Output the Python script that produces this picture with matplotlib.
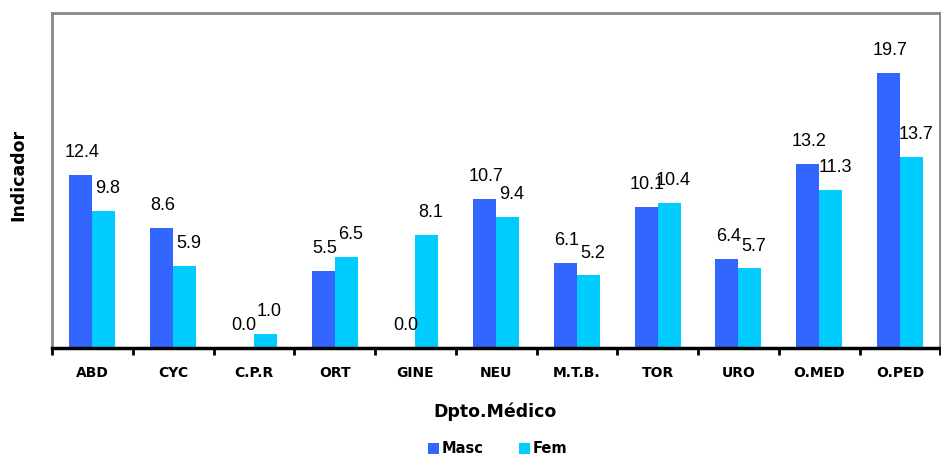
import numpy as np
import matplotlib
matplotlib.use("Agg")
import matplotlib.pyplot as plt

# data
categorias = ["ABD", "CYC", "C.P.R", "ORT", "GINE", "NEU", "M.T.B.", "TOR", "URO", "O.MED", "O.PED"]
masc = [12.4, 8.6, 0.0, 5.5, 0.0, 10.7, 6.1, 10.1, 6.4, 13.2, 19.7]
fem = [9.8, 5.9, 1.0, 6.5, 8.1, 9.4, 5.2, 10.4, 5.7, 11.3, 13.7]

plt.rcParams['font.family'] = ['Liberation Sans', 'DejaVu Sans']

fig = plt.figure(figsize=(9.41, 4.57), dpi=100)
ax = fig.add_axes([0.0553, 0.2385, 0.944, 0.733])

x = np.arange(len(categorias))
w = 0.285
b1 = ax.bar(x - w/2, masc, w, color="#3366FF", label="Masc")
b2 = ax.bar(x + w/2, fem, w, color="#00CCFF", label="Fem")

for bars, vals, dx in ((b1, masc, 1), (b2, fem, 3)):
    for r, v in zip(bars, vals):
        ax.annotate(f"{v:.1f}", (r.get_x() + r.get_width()/2, v),
                    xytext=(dx, 10), textcoords="offset points",
                    ha="center", va="bottom", fontsize=13)

ax.set_xlim(-0.5, len(categorias) - 0.5)
ax.set_ylim(0, 24)
ax.set_yticks([])

# category labels between boundary ticks
ax.set_xticks(np.arange(len(categorias) + 1) - 0.5)
ax.set_xticklabels([])
ax.set_xticks(x, minor=True)
ax.set_xticklabels(categorias, minor=True, fontfamily="DejaVu Sans",
                   fontweight="bold", fontsize=10)
ax.tick_params(axis="x", which="major", length=5, width=2, color="black", direction="out")
ax.tick_params(axis="x", which="minor", length=0, pad=13)

for s in ("left", "top", "right"):
    ax.spines[s].set_color("#888888")
    ax.spines[s].set_linewidth(2)
ax.spines["bottom"].set_color("black")
ax.spines["bottom"].set_linewidth(2.5)

fig.text(0.019, 0.617, "Indicador", rotation=90, ha="center", va="center",
         fontfamily="DejaVu Sans", fontweight="bold", fontsize=12.5)
fig.text(0.526, 0.098, "Dpto.Médico", ha="center", va="center",
         fontfamily="DejaVu Sans", fontweight="bold", fontsize=12.5)

fig.legend(loc="center", bbox_to_anchor=(0.529, 0.018), ncol=2, frameon=False,
           handlelength=0.75, handleheight=0.75, handletextpad=0.2, columnspacing=2.4,
           prop={"family": "DejaVu Sans", "weight": "bold", "size": 10.5})

fig.savefig("out.png", dpi=100)
